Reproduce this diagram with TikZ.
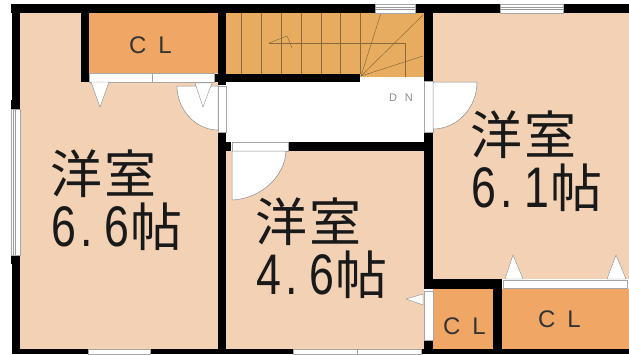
\documentclass[tikz,border=0pt]{standalone}
\usepackage{fontspec}
\newfontfamily\jp{Noto Sans CJK JP}
\newfontfamily\lat{Liberation Sans}
\definecolor{room}{HTML}{F2D1B5}
\definecolor{closet}{HTML}{F0A766}
\definecolor{stair}{HTML}{E8AC60}
\definecolor{treadline}{HTML}{8A6A3A}
\newcommand{\hw}[1]{\makebox[0.51em][c]{\scalebox{0.86}[1.1]{\lat #1}}}
\newcommand{\hd}{\makebox[0.51em][l]{\hspace{0.08em}\scalebox{0.86}[1.1]{\lat .}}}
\newcommand{\fw}[1]{\makebox[1.03em][c]{#1}}
\tikzset{
  x=1pt,y=-1pt,
  wall/.style={fill=black,draw=none},
  roomfill/.style={fill=room,draw=none},
  closetfill/.style={fill=closet,draw=none},
  stairfill/.style={fill=stair,draw=none},
  tread/.style={draw=treadline,line width=0.5pt},
  opening/.style={fill=white,draw=black!35,line width=0.5pt},
  winline/.style={draw=black!40,line width=0.5pt},
  leaf/.style={fill=white,draw=black!45,line width=0.5pt},
  tick/.style={fill=white,draw=black!45,line width=0.4pt},
  roomlabel/.style={font=\jp\fontsize{52}{53}\selectfont,align=left,inner sep=0pt,text=black!90},
  cl/.style={font=\lat\fontsize{24}{24}\selectfont,inner sep=0pt,text=black!80},
  dn/.style={font=\lat\fontsize{11}{11}\selectfont,inner sep=0pt,text=black!45}
}
\begin{document}
\begin{tikzpicture}
\useasboundingbox (0,0) rectangle (629,354);
\fill[white] (0,0) rectangle (629,354);
% floors
\fill[roomfill] (20,13) rectangle (219,349);
\fill[roomfill] (226,151) rectangle (424,349);
\fill[roomfill] (433,13) rectangle (629,279);
\fill[closetfill] (89,13) rectangle (218,73);
\fill[closetfill] (433,289) rectangle (493,349);
\fill[closetfill] (502,289) rectangle (629,349);
\fill[stairfill] (226,13) rectangle (424,77);
% stair lines
\foreach \x in {241,261,281,301,321,340,360} \draw[tread] (\x,13) -- (\x,74);
\draw[tread] (269,43) -- (405,43) -- (405,77);
\draw[tread] (361,76) -- (381,13);
\draw[tread] (361,76) -- (423,15);
\draw[tread] (361,76) -- (423,56);
\draw[tread] (269,43) -- (287,36) -- (292,48);
% walls
\fill[wall] (11,4) rectangle (375,13);
\fill[wall] (415,4) rectangle (500,13);
\fill[wall] (563,4) rectangle (629,13);
\fill[wall] (12,4) rectangle (20,109);
\fill[wall] (11,100) rectangle (20,109);
\fill[wall] (12,255) rectangle (20,354);
\fill[wall] (11,255) rectangle (20,264);
\fill[wall] (12,349) rectangle (88,354);
\fill[wall] (150,349) rectangle (293,354);
\fill[wall] (421,349) rectangle (629,354);
\fill[wall] (81,13) rectangle (89,82);
\fill[wall] (218,13) rectangle (226,85);
\fill[wall] (214,74) rectangle (360,82);
\fill[wall] (424,13) rectangle (433,81);
\fill[wall] (424,132) rectangle (433,286);
\fill[wall] (218,132) rectangle (226,354);
\fill[wall] (218,142) rectangle (231,151);
\fill[wall] (288,142) rectangle (433,151);
\fill[wall] (424,279) rectangle (502,289);
\fill[wall] (493,279) rectangle (502,354);
\fill[wall] (424,340) rectangle (433,354);
% windows
\foreach \a/\b in {375/415,500/563} {
  \filldraw[opening] (\a,4) rectangle (\b,13);
  \draw[winline] (\a,7.5) -- (\b,7.5);
  \draw[winline] (\a,9.5) -- (\b,9.5);
}
\filldraw[opening] (11,109) rectangle (20,255);
\draw[winline] (15,109) -- (15,255);
\draw[winline] (13,109) -- (13,255);
\filldraw[opening] (88,349) rectangle (150,354);
\filldraw[opening] (293,349) rectangle (421,354);
\draw[winline] (357,349) -- (357,354);
% closet door tracks
\filldraw[opening] (89,73) rectangle (152,82);
\filldraw[opening] (152,73) rectangle (214,82);
\filldraw[opening] (503,280) rectangle (627,288);
\filldraw[opening] (424,291) rectangle (433,340);
% door openings
\filldraw[opening] (218,86) rectangle (226,132);
\filldraw[opening] (424,81) rectangle (433,132);
\filldraw[opening] (232,142) rectangle (288,151);
% door leaves
\filldraw[leaf] (177,86) -- (218,86) -- (218,130) .. controls (196,130) and (177,110) .. (177,86) -- cycle;
\filldraw[leaf] (433,82) -- (477,82) .. controls (477,108) and (457,129) .. (433,129) -- cycle;
\filldraw[leaf] (232,151) -- (286,151) .. controls (285,177) and (260,199) .. (232,200) -- cycle;
% triangles
\filldraw[tick] (91,82) -- (109,82) -- (100,107) -- cycle;
\filldraw[tick] (195,83) -- (212,83) -- (203,107) -- cycle;
\filldraw[tick] (505,279) -- (523,279) -- (513,255) -- cycle;
\filldraw[tick] (607,279) -- (626,279) -- (616,255) -- cycle;
\filldraw[tick] (423,294) -- (423,305) -- (406,299) -- cycle;
% labels
\node[cl] (clA) at (150.5,45.5) {C\hspace{0.5em}L};
\node[cl] (clB) at (464.5,326.5) {C\hspace{0.5em}L};
\node[cl] (clC) at (559.5,319) {C\hspace{0.5em}L};
\node[dn] (dnlabel) at (401,98) {D\hspace{0.7em}N};
\node[roomlabel,anchor=north west] (roomA) at (50,150) {\fw{洋}\fw{室}\\\hw{6}\hd\hw{6}\fw{帖}};
\node[roomlabel,anchor=north west] (roomB) at (255,198) {\fw{洋}\fw{室}\\\hw{4}\hd\hw{6}\fw{帖}};
\node[roomlabel,anchor=north west] (roomC) at (470,111) {\fw{洋}\fw{室}\\\hw{6}\hd\hw{1}\fw{帖}};
\end{tikzpicture}
\end{document}
